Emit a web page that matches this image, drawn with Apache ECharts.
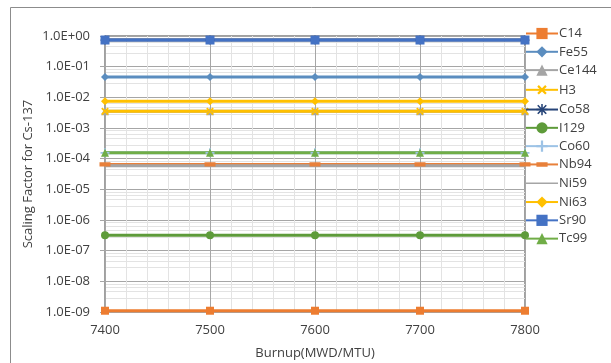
<!DOCTYPE html>
<html>
<head>
<meta charset="utf-8">
<script src="https://cdn.jsdelivr.net/npm/echarts@6/dist/echarts.min.js"></script>
<style>html,body{margin:0;padding:0;background:#fff;}#c{width:611px;height:363px;}</style>
</head>
<body>
<div id="c"></div>
<script>
var burnup = [7400, 7500, 7600, 7700, 7800];
var seriesNames = ['C14','Fe55','Ce144','H3','Co58','I129','Co60','Nb94','Ni59','Ni63','Sr90','Tc99'];
var C14   = [1.1e-9, 1.1e-9, 1.1e-9, 1.1e-9, 1.1e-9];
var Fe55  = [0.046, 0.046, 0.046, 0.046, 0.046];
var Ce144 = [0.0035, 0.0035, 0.0035, 0.0035, 0.0035];
var H3    = [0.0035, 0.0035, 0.0035, 0.0035, 0.0035];
var Co58  = [0.74, 0.74, 0.74, 0.74, 0.74];
var I129  = [3.2e-7, 3.2e-7, 3.2e-7, 3.2e-7, 3.2e-7];
var Co60  = [1.55e-4, 1.55e-4, 1.55e-4, 1.55e-4, 1.55e-4];
var Nb94  = [6.5e-5, 6.5e-5, 6.5e-5, 6.5e-5, 6.5e-5];
var Ni59  = [5.9e-5, 5.9e-5, 5.9e-5, 5.9e-5, 5.9e-5];
var Ni63  = [0.0075, 0.0075, 0.0075, 0.0075, 0.0075];
var Sr90  = [0.74, 0.74, 0.74, 0.74, 0.74];
var Tc99  = [1.55e-4, 1.55e-4, 1.55e-4, 1.55e-4, 1.55e-4];
var values = [C14, Fe55, Ce144, H3, Co58, I129, Co60, Nb94, Ni59, Ni63, Sr90, Tc99];

var colors = ['#ED7D31','#5B8DBF','#A5A5A5','#FFC000','#264478','#5E9B3A','#9DC3E6','#E8803A','#A5A5A5','#FFC000','#4472C4','#70AD47'];
var plus = 'path://M4,0H6V4H10V6H6V10H4V6H0V4H4Z';
var star = 'path://M4.3,0H5.7V3.3L8.3,0.7L9.3,1.7L6.7,4.3H10V5.7H6.7L9.3,8.3L8.3,9.3L5.7,6.7V10H4.3V6.7L1.7,9.3L0.7,8.3L3.3,5.7H0V4.3H3.3L0.7,1.7L1.7,0.7L4.3,3.3Z';
var dash = 'path://M0,0h0.01v0.01zM0,3H10V7H0ZM9.99,9.99h0.01v0.01z';
var lineOnly = 'path://M0,0h0.01v0.01zM0,6.3H32V7.7H0ZM31.99,13.99h0.01v0.01z';
var symbols = ['rect','diamond','triangle',plus,star,'circle',plus,dash,'none','diamond','rect','triangle'];
var rotates = [0,0,0,45,0,0,0,0,0,0,0,0];
var sizes = [8,8,8,9,9,8,9,11,0,8,9,8];

var font = '"Open Sans", "Liberation Sans", sans-serif';
var chart = echarts.init(document.getElementById('c'), null, {renderer:'canvas'});

var series = seriesNames.map(function(n, i){
  return {
    name: n, type: 'line',
    data: burnup.map(function(x, j){ return [x, values[i][j]]; }),
    symbol: symbols[i], symbolSize: sizes[i], symbolRotate: rotates[i],
    showSymbol: symbols[i] !== 'none',
    lineStyle: {color: colors[i], width: 3},
    itemStyle: {color: colors[i]},
    animation: false
  };
});

function fmt(v){
  var e = Math.round(Math.log10(v));
  var s = e < 0 ? '-' : '+';
  var a = Math.abs(e);
  return '1.0E' + s + (a < 10 ? '0' + a : a);
}

var legendData = seriesNames.map(function(n){
  return n === 'Ni59' ? {name:n, icon: lineOnly, itemStyle:{color:'#A5A5A5'}} : {name:n};
});

chart.setOption({
  animation: false,
  backgroundColor: '#fff',
  graphic: [{type:'rect', shape:{x:10.5, y:7.5, width:700, height:400}, style:{fill:'none', stroke:'#8c8c8c', lineWidth:1}, silent:true, z:-1}],
  grid: {left:105, right:86, top:36, bottom:51, outerBoundsMode:'none', containLabel:false, show:true, borderColor:'#404040', borderWidth:1, backgroundColor:'transparent'},
  legend: {
    orient:'vertical', left:520, top:22, itemWidth:32, itemHeight:14, itemGap:5.3,
    textStyle:{fontFamily:font, fontSize:13, color:'#404040', padding:[0,0,0,-4]},
    data: legendData
  },
  xAxis: {
    type:'value', min:7400, max:7800, interval:100,
    name:'Burnup(MWD/MTU)', nameLocation:'middle', nameGap:35,
    nameTextStyle:{fontFamily:font, fontSize:13, color:'#404040'},
    axisLine:{lineStyle:{color:'#a6a6a6'}},
    axisTick:{show:false},
    axisLabel:{fontFamily:font, fontSize:13, color:'#404040', margin:12, formatter: function(v){ return String(v); }},
    splitLine:{show:true, lineStyle:{color:'#a6a6a6', width:1}},
    minorTick:{show:false, splitNumber:5},
    minorSplitLine:{show:true, lineStyle:{color:'#e3e3e3', width:1}}
  },
  yAxis: {
    type:'log', logBase:10, min:1e-9, max:1,
    name:'Scaling Factor for Cs-137', nameLocation:'middle', nameGap:70, nameMoveOverlap:false,
    nameTextStyle:{fontFamily:font, fontSize:13, color:'#404040'},
    axisLine:{show:true, lineStyle:{color:'#a6a6a6'}},
    axisTick:{show:true, length:5, inside:false, lineStyle:{color:'#a6a6a6'}},
    axisLabel:{fontFamily:font, fontSize:13, color:'#404040', margin:15, formatter: fmt},
    splitLine:{show:true, lineStyle:{color:'#a6a6a6', width:1}},
    minorTick:{show:false, splitNumber:5},
    minorSplitLine:{show:true, lineStyle:{color:'#e3e3e3', width:1}}
  },
  series: series
});
</script>
</body>
</html>
